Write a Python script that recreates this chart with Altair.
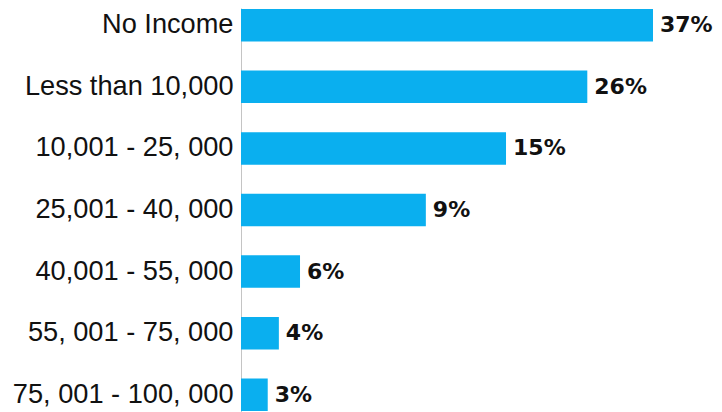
import altair as alt
import pandas as pd

categories = [
    "No Income",
    "Less than 10,000",
    "10,001 - 25, 000",
    "25,001 - 40, 000",
    "40,001 - 55, 000",
    "55, 001 - 75, 000",
    "75, 001 - 100, 000",
]
# bar lengths as drawn in the picture (in percent units of the 37% bar)
bar_lengths = [37.0, 31.1, 23.8, 16.6, 5.3, 3.4, 2.4]
value_labels = ["37%", "26%", "15%", "9%", "6%", "4%", "3%"]

df = pd.DataFrame({"cat": categories, "len": bar_lengths, "lab": value_labels})

W = 473
H = 404
x_scale = alt.Scale(domain=[0, 37.0 * W / 412.0], nice=False, zero=True)
y_scale = alt.Scale(domain=categories, range=[0, 404], paddingInner=0.472, paddingOuter=0.016)

base = alt.Chart(df)

bars = base.mark_bar(color="#0AAFEF").encode(
    y=alt.Y("cat:N", scale=y_scale, sort=categories,
            axis=alt.Axis(title=None, labelFont="Liberation Sans", labelFontSize=27.2,
                          labelColor="#111111", labelPadding=8, ticks=False, grid=False,
                          domainColor="#c4c4c4", domainWidth=1, labelLimit=400)),
    x=alt.X("len:Q", scale=x_scale, axis=None),
)

texts = base.mark_text(align="left", baseline="middle", dx=7, dy=0,
                       font="DejaVu Sans", fontWeight="bold", fontSize=22, color="#111111").encode(
    y=alt.Y("cat:N", scale=y_scale, sort=categories),
    x=alt.X("len:Q", scale=x_scale),
    text="lab:N",
)

chart = alt.layer(bars, texts).properties(
    width=W, height=H,
    autosize=alt.AutoSizeParams(type="none"),
    padding={"left": 233, "top": 0, "right": 0, "bottom": 0},
    background="#ffffff",
).configure_view(stroke=None)

chart.save("out.html", embed_options={"renderer": "svg", "actions": False})
